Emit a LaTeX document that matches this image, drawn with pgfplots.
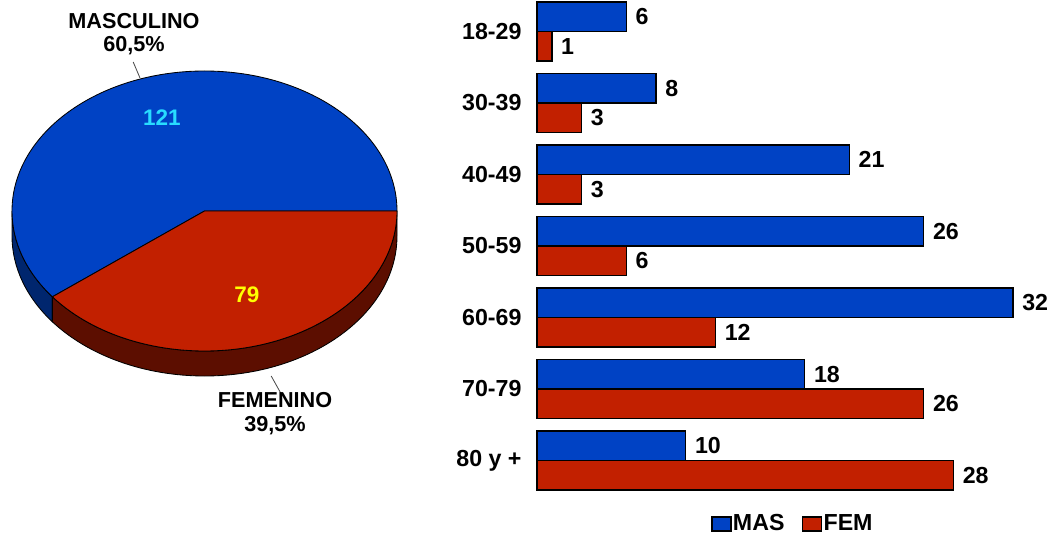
\documentclass[border=0pt]{standalone}
\usepackage{pgfplots}
\usepackage{pgfplotstable}
\pgfplotsset{compat=1.18}
\usepackage{fontspec}
\setmainfont{Liberation Sans}
\definecolor{mblue}{RGB}{0,66,196}
\definecolor{mblueside}{RGB}{0,38,110}
\definecolor{fred}{RGB}{194,32,0}
\definecolor{fredside}{RGB}{92,14,0}
\definecolor{lcyan}{RGB}{40,220,255}
\definecolor{lyellow}{RGB}{255,255,0}
\pgfplotstableread{
cat mas fem
0 6 1
1 8 3
2 21 3
3 26 6
4 32 12
5 18 26
6 10 28
}\agedata
\newcommand{\barfont}{\fontsize{16.5}{18}\selectfont\bfseries}
\newcommand{\piefont}{\fontsize{15.4}{16.5}\selectfont\bfseries}
\begin{document}
\piefont
\begin{tikzpicture}
\useasboundingbox (0,0) rectangle (26.4,-13.425);
\pgfmathsetmacro{\nM}{121}
\pgfmathsetmacro{\nF}{79}
\pgfmathsetmacro{\aM}{360*(\nM/(\nM+\nF))}
\def\cx{5.1125}\def\cy{-5.275}\def\rx{4.8125}\def\ry{3.5}\def\dd{0.625}
\pgfmathsetmacro{\sx}{\cx+\rx*cos(\aM)}
\pgfmathsetmacro{\sy}{\cy+\ry*sin(\aM)}
\pgfmathsetmacro{\sya}{\sy-\dd}
\pgfmathsetmacro{\cya}{\cy-\dd}
\pgfmathsetmacro{\lx}{\cx-\rx}
\pgfmathsetmacro{\rgx}{\cx+\rx}
\begin{axis}[hide axis, x=1cm, y=1cm, xmin=0, xmax=10.5, ymin=-13.425, ymax=0,
  enlargelimits=false, scale only axis, anchor=north west, at={(0cm,0cm)}, clip=false]
% side walls
\filldraw[fill=mblueside, draw=black, line width=0.6pt]
  (axis cs:\lx,\cy) arc[start angle=180, end angle=\aM, x radius=\rx, y radius=\ry]
  -- (axis cs:\sx,\sya) arc[start angle=\aM, end angle=180, x radius=\rx, y radius=\ry] -- cycle;
\filldraw[fill=fredside, draw=black, line width=0.6pt]
  (axis cs:\sx,\sy) arc[start angle=\aM, end angle=360, x radius=\rx, y radius=\ry]
  -- (axis cs:\rgx,\cya) arc[start angle=360, end angle=\aM, x radius=\rx, y radius=\ry] -- cycle;
% top faces
\filldraw[fill=mblue, draw=black, line width=0.6pt]
  (axis cs:\cx,\cy) -- (axis cs:\rgx,\cy) arc[start angle=0, end angle=\aM, x radius=\rx, y radius=\ry] -- cycle;
\filldraw[fill=fred, draw=black, line width=0.6pt]
  (axis cs:\cx,\cy) -- (axis cs:\sx,\sy) arc[start angle=\aM, end angle=360, x radius=\rx, y radius=\ry] -- cycle;
% values
\node[text=lcyan, font=\fontsize{16}{17}\selectfont\bfseries] at (axis cs:4.05,-2.95) {121};
\node[text=lyellow, font=\fontsize{16}{17}\selectfont\bfseries] at (axis cs:6.175,-7.375) {79};
% labels
\draw[black!70, line width=0.6pt] (axis cs:3.33,-1.55) -- (axis cs:3.50,-1.95);
\node[align=center, font=\piefont] at (axis cs:3.35,-0.8575) {MASCULINO\\60,5\%};
\draw[black!70, line width=0.6pt] (axis cs:6.78,-9.40) -- (axis cs:7.02,-9.83);
\node[align=center, font=\piefont] at (axis cs:6.875,-10.34) {FEMENINO\\39,5\%};
\end{axis}

\begin{axis}[
  at={(19.375cm,-6.15cm)}, anchor=center, scale only axis,
  width=11.9cm, height=12.5125cm,
  xbar, bar width=0.7375cm,
  xmin=0, xmax=32, ymin=-0.5, ymax=6.5, y dir=reverse, enlargelimits=false,
  hide x axis, y axis line style={draw=none},
  ytick={0,...,6}, yticklabels={18-29,30-39,40-49,50-59,60-69,70-79,80 y +},
  major tick length=0pt, ytick style={draw=none},
  yticklabel style={font=\barfont, xshift=-0.2cm},
  nodes near coords,
  nodes near coords style={font=\barfont, anchor=west, xshift=1pt},
  /pgf/number format/assume math mode=true,
  clip=false,
  legend columns=2,
  legend style={at={(0.537,-0.0554)}, anchor=center, draw=none, fill=none,
    font=\barfont,
    nodes={inner xsep=1pt},
    /tikz/every even column/.append style={column sep=0.4cm}},
]
\addplot[fill=mblue, draw=black, line width=0.9pt, bar shift=0.36875cm,
  legend image code/.code={\draw[fill=mblue,draw=black,line width=0.9pt] (0cm,-0.175cm) rectangle (0.475cm,0.175cm);}]
  table[x=mas, y=cat]{\agedata};
\addplot[fill=fred, draw=black, line width=0.9pt, bar shift=-0.36875cm,
  legend image code/.code={\draw[fill=fred,draw=black,line width=0.9pt] (0cm,-0.175cm) rectangle (0.475cm,0.175cm);}]
  table[x=fem, y=cat]{\agedata};
\legend{MAS,FEM}
\end{axis}
\end{tikzpicture}
\end{document}
